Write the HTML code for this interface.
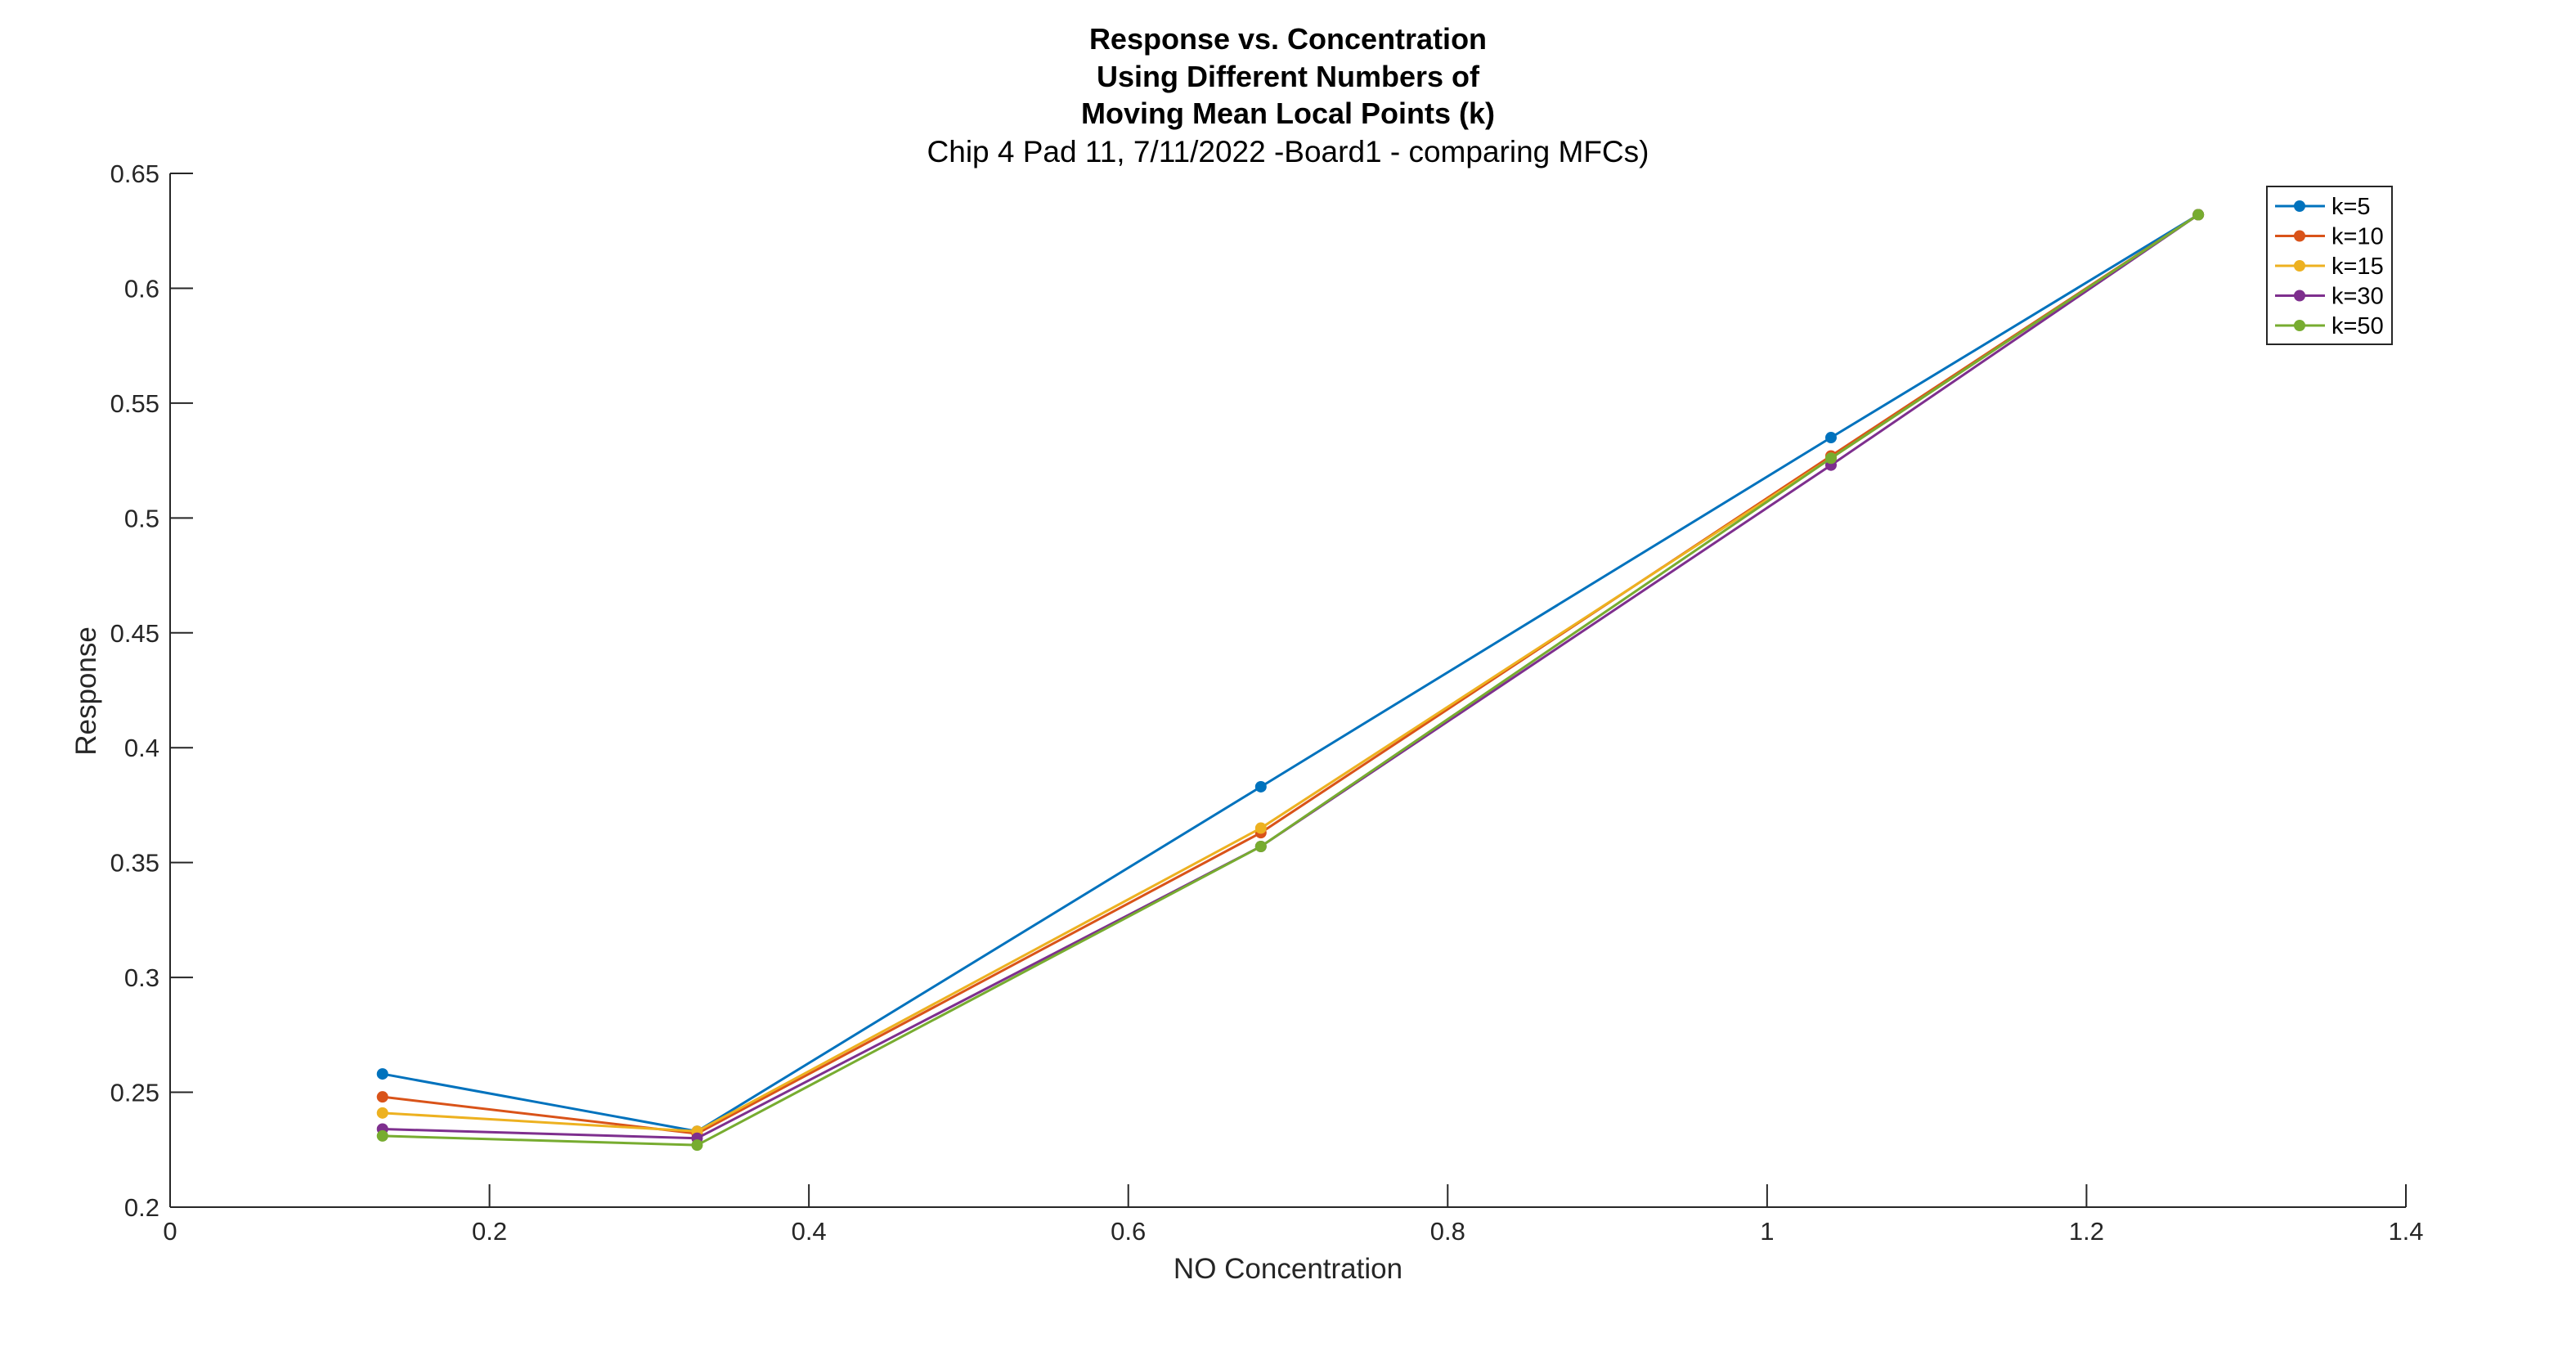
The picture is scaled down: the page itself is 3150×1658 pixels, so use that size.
<!DOCTYPE html>
<html><head><meta charset="utf-8"><style>
html,body{margin:0;padding:0;background:#fff;}
svg{display:block;font-family:"Liberation Sans",Arial,sans-serif;}
</style></head><body>
<svg id="chart" width="3150" height="1658" viewBox="0 0 3150 1658" xmlns="http://www.w3.org/2000/svg">
<rect width="3150" height="1658" fill="#fff"/>
<g text-anchor="middle" fill="#000">
<text x="1575" y="60" font-size="36" font-weight="bold">Response vs. Concentration</text>
<text x="1575" y="106" font-size="36" font-weight="bold">Using Different Numbers of</text>
<text x="1575" y="151" font-size="36" font-weight="bold">Moving Mean Local Points (k)</text>
<text x="1575" y="198" font-size="37">Chip 4 Pad 11, 7/11/2022 -Board1 - comparing MFCs)</text>
</g>
<g id="axes"></g>
<g id="series"></g>
<g id="legend"></g>
</svg>
<script>
const xTicks=[0,0.2,0.4,0.6,0.8,1,1.2,1.4];
const xTickLabels=["0","0.2","0.4","0.6","0.8","1","1.2","1.4"];
const yTicks=[0.2,0.25,0.3,0.35,0.4,0.45,0.5,0.55,0.6,0.65];
const yTickLabels=["0.2","0.25","0.3","0.35","0.4","0.45","0.5","0.55","0.6","0.65"];
const concentrations=[0.133,0.33,0.683,1.04,1.27];
const k5=[0.258,0.233,0.383,0.535,0.632];
const k10=[0.248,0.232,0.363,0.527,0.632];
const k15=[0.241,0.233,0.365,0.526,0.632];
const k30=[0.234,0.230,0.357,0.523,0.632];
const k50=[0.231,0.227,0.357,0.526,0.632];
const seriesNames=["k=5","k=10","k=15","k=30","k=50"];
const seriesValues=[k5,k10,k15,k30,k50];
const colors=["#0072BD","#D95319","#EDB120","#7E2F8E","#77AC30"];

const L=208,R=2942,T=212,B=1476;
const xs=v=>L+(v-0)/(1.4-0)*(R-L);
const ys=v=>B-(v-0.2)/(0.65-0.2)*(B-T);
const NS="http://www.w3.org/2000/svg";
function mk(tag,attrs,parent){const e=document.createElementNS(NS,tag);for(const k in attrs)e.setAttribute(k,attrs[k]);parent.appendChild(e);return e;}
const axes=document.getElementById('axes');
const xa=mk('path',{d:`M${L},${B}H${R}`,stroke:'#262626','stroke-width':2,fill:'none'},axes);


const ya=mk('path',{d:`M${L},${B}V${T}`,stroke:'#262626','stroke-width':2,fill:'none'},axes);


xTicks.forEach((t,i)=>{
  const x=xs(t);
  const tk=mk('path',{d:`M${x},${B}V${B-28}`,stroke:'#262626','stroke-width':2},axes);
  
  
  const tx=mk('text',{x:x,y:B+40,'font-size':31,'text-anchor':'middle',fill:'#262626'},axes);
  tx.textContent=xTickLabels[i];
  
  
});
yTicks.forEach((t,i)=>{
  const y=ys(t);
  const tk=mk('path',{d:`M${L},${y}H${L+28}`,stroke:'#262626','stroke-width':2},axes);
  
  
  const tx=mk('text',{x:L-13,y:y+11,'font-size':31,'text-anchor':'end',fill:'#262626'},axes);
  tx.textContent=yTickLabels[i];
  
  
});
const xl=mk('text',{x:(L+R)/2,y:1563,'font-size':35,'text-anchor':'middle',fill:'#262626'},axes);
xl.textContent='NO Concentration';


const yl=mk('text',{x:0,y:0,'font-size':35,'text-anchor':'middle',fill:'#262626',transform:`translate(117,845) rotate(-90)`},axes);
yl.textContent='Response';



const sg=document.getElementById('series');
seriesValues.forEach((vals,si)=>{
  const g=mk('g',{},sg);
  
  
  const d=vals.map((v,i)=>(i?'L':'M')+xs(concentrations[i])+','+ys(v)).join('');
  const p=mk('path',{d:d,stroke:colors[si],'stroke-width':3,fill:'none'},g);
  
  
  vals.forEach((v,i)=>{
    const c=mk('circle',{cx:xs(concentrations[i]),cy:ys(v),r:7,fill:colors[si]},g);
    
    
  });
});

const lg=document.getElementById('legend');


mk('rect',{x:2772,y:228,width:153,height:193,fill:'#fff',stroke:'#262626','stroke-width':2},lg);
seriesNames.forEach((n,i)=>{
  const y=252+i*36.5;
  const g=mk('g',{},lg);
  
  
  mk('path',{d:`M2782,${y}H2843`,stroke:colors[i],'stroke-width':3},g);
  mk('circle',{cx:2812,cy:y,r:7,fill:colors[i]},g);
  const t=mk('text',{x:2851,y:y+10,'font-size':29,fill:'#000'},g);
  t.textContent=n;
});
</script>
</body></html>
